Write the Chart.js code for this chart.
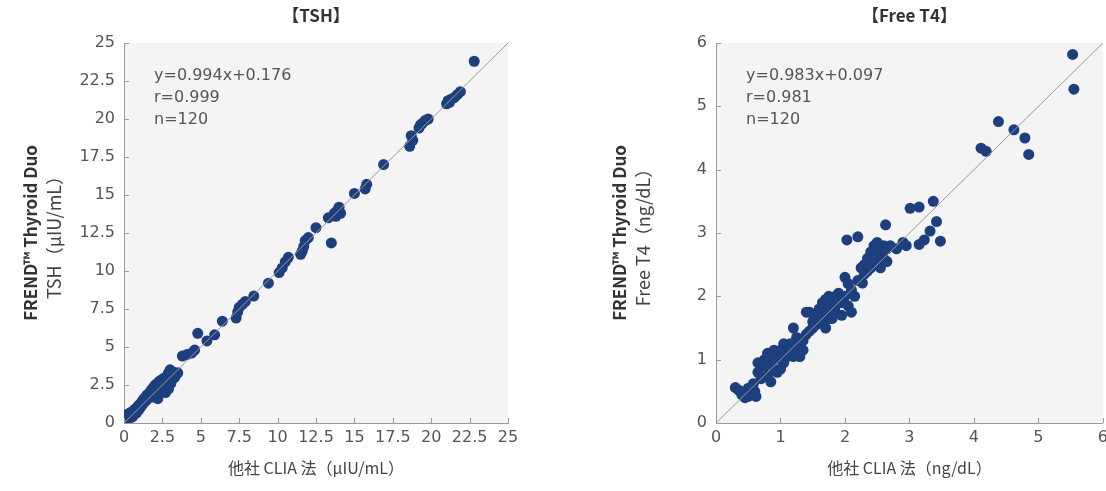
<!DOCTYPE html>
<html>
<head>
<meta charset="utf-8">
<script src="https://cdn.jsdelivr.net/npm/chart.js@4/dist/chart.umd.min.js"></script>
<style>
  body { margin: 0; background: #fff; overflow: hidden; width: 1106px; height: 491px; position: relative; }
  canvas { position: absolute; top: 0; }
  #tsh { left: 0; }
  #ft4 { left: 553px; }
</style>
</head>
<body>
<canvas id="tsh" width="553" height="491"></canvas>
<canvas id="ft4" width="560" height="491"></canvas>
<script>
// TSH (uIU/mL): other CLIA method (x) vs FREND Thyroid Duo (y)
var tshX = [22.8, 21.0, 21.1, 21.3, 21.5, 21.7, 21.9, 21.2, 19.2, 19.4, 19.6, 19.8, 19.3,
  18.6, 18.8, 18.7, 16.9, 15.0, 15.7, 15.8, 13.3, 13.7, 13.9, 14.0, 14.1, 13.8, 13.5,
  12.5, 11.6, 11.7, 11.8, 12.0, 11.5, 10.5, 10.7, 10.3, 10.1, 9.4, 8.45, 7.3, 7.4, 7.5,
  7.7, 7.9, 6.4, 5.9, 5.4, 4.8, 3.8, 4.1, 4.4, 4.6,
  0.1, 0.15, 0.2, 0.25, 0.3, 0.35, 0.4, 0.45, 0.5, 0.55, 0.6, 0.65, 0.7, 0.75, 0.8, 0.85,
  0.9, 0.95, 1.0, 1.05, 1.1, 1.15, 1.2, 1.25, 1.3, 1.35, 1.4, 1.45, 1.5, 1.55, 1.6, 1.65,
  1.7, 1.75, 1.8, 1.85, 1.9, 1.95, 2.0, 2.05, 2.1, 2.15, 2.2, 2.25, 2.3, 2.35, 2.4, 2.45,
  2.5, 2.55, 2.6, 2.65, 2.7, 2.75, 2.8, 2.85, 2.9, 2.95, 3.0, 3.05, 3.1, 3.15, 3.2, 3.3,
  3.4, 3.5, 2.9, 2.2];
var tshY = [23.8, 21.0, 21.2, 21.3, 21.4, 21.6, 21.8, 21.1, 19.4, 19.7, 19.9, 20.0, 19.6,
  18.2, 18.6, 18.9, 17.0, 15.1, 15.4, 15.7, 13.5, 13.8, 14.0, 14.2, 13.8, 13.6, 11.85,
  12.85, 11.3, 11.6, 12.0, 12.2, 11.1, 10.6, 10.9, 10.2, 9.9, 9.2, 8.35, 6.9, 7.3, 7.6,
  7.8, 8.0, 6.7, 5.8, 5.4, 5.9, 4.4, 4.5, 4.6, 4.8,
  0.4, 0.5, 0.3, 0.6, 0.45, 0.5, 0.35, 0.7, 0.55, 0.4, 0.75, 0.6, 0.9, 0.8, 0.65, 1.0,
  1.1, 0.85, 1.2, 1.0, 1.3, 1.15, 1.45, 1.3, 1.6, 1.4, 1.7, 1.5, 1.85, 1.6, 1.9, 1.75,
  2.05, 1.8, 2.2, 1.95, 2.3, 1.7, 2.45, 2.0, 2.55, 1.85, 2.6, 2.2, 2.75, 2.4, 2.1, 2.85,
  2.5, 2.3, 2.95, 2.6, 2.0, 2.75, 3.1, 2.45, 3.3, 2.8, 3.5, 2.6, 3.2, 2.9, 3.35, 3.0,
  3.2, 3.3, 2.25, 1.6];

// Free T4 (ng/dL)
var ft4X = [5.53, 5.55, 4.38, 4.62, 4.79, 4.85, 4.11, 4.19, 3.01, 3.15, 3.37,
  3.42, 3.32, 3.48, 3.15, 3.23, 2.63, 2.03, 2.2,
  2.3, 2.35, 2.4, 2.45, 2.5, 2.55, 2.6, 2.65, 2.7, 2.8, 2.9, 2.95, 2.5, 2.55, 2.45, 2.6, 2.35, 2.25,
  2.27, 2.0, 2.05, 2.1, 2.15, 2.0, 1.95, 2.05, 2.1, 1.95, 1.85, 1.8, 1.85,
  1.4, 1.45, 1.5, 1.55, 1.6, 1.65, 1.7, 1.75, 1.6, 1.7, 1.75, 1.8, 1.55, 1.65, 1.7,
  1.2, 1.25, 1.3, 1.35, 1.4, 1.1, 1.15, 1.05, 1.0, 1.05, 1.2, 1.3,
  0.9, 0.95, 0.85, 0.8, 0.75, 0.7, 0.65, 0.7, 0.8, 0.9, 0.95, 1.0, 0.85,
  0.3, 0.35, 0.4, 0.45, 0.5, 0.55, 0.6, 0.62, 0.5, 0.58,
  0.65, 0.75, 0.8, 0.9, 1.0, 1.1, 1.15, 1.25, 1.35, 1.45, 1.5, 1.6, 1.75, 1.85, 1.9,
  2.2, 2.3, 2.4, 2.55, 2.65];
var ft4Y = [5.82, 5.27, 4.76, 4.63, 4.5, 4.24, 4.34, 4.29, 3.39, 3.41, 3.5,
  3.18, 3.03, 2.87, 2.82, 2.89, 3.13, 2.89, 2.94,
  2.5, 2.6, 2.7, 2.8, 2.85, 2.75, 2.8, 2.75, 2.8, 2.75, 2.85, 2.8, 2.5, 2.45, 2.55, 2.6, 2.4, 2.45,
  2.21, 2.3, 2.2, 2.1, 2.0, 2.0, 1.9, 1.85, 1.75, 1.7, 2.0, 1.9, 1.75,
  1.75, 1.75, 1.6, 1.7, 1.8, 1.9, 1.95, 2.0, 1.6, 1.7, 1.8, 1.65, 1.55, 1.65, 1.5,
  1.5, 1.35, 1.2, 1.3, 1.4, 1.2, 1.1, 1.25, 1.0, 0.95, 1.05, 1.05,
  1.15, 1.1, 1.05, 0.95, 0.9, 0.95, 0.8, 0.7, 0.75, 0.85, 0.8, 0.85, 0.65,
  0.56, 0.52, 0.45, 0.4, 0.42, 0.45, 0.5, 0.42, 0.55, 0.62,
  0.95, 1.0, 1.1, 1.0, 1.15, 1.05, 1.25, 1.2, 1.15, 1.45, 1.5, 1.7, 1.65, 1.85, 2.05,
  2.25, 2.35, 2.45, 2.65, 2.55];

var tshTicks = [0, 2.5, 5, 7.5, 10, 12.5, 15, 17.5, 20, 22.5, 25];
var ft4Ticks = [0, 1, 2, 3, 4, 5, 6];

var pointColor = '#1d3f7e';
var lineColor = '#9a9a9a';
var textColor = '#555';
var tickFont = { family: 'DejaVu Sans', size: 16 };

function toPoints(xs, ys) {
  return xs.map(function (x, i) { return { x: x, y: ys[i] }; });
}

// light grey panel behind the data + inner tick marks + texts
var decorPlugin = {
  id: 'decor',
  beforeDraw: function (chart) {
    var a = chart.chartArea, ctx = chart.ctx;
    ctx.save();
    ctx.fillStyle = '#f4f4f4';
    ctx.fillRect(a.left, a.top, a.right - a.left, a.bottom - a.top);
    ctx.restore();
  },
  afterDraw: function (chart) {
    var o = chart.options.plugins.decor;
    var a = chart.chartArea, ctx = chart.ctx;
    var xs = chart.scales.x, ys = chart.scales.y;
    ctx.save();
    // inward ticks
    ctx.strokeStyle = lineColor;
    ctx.lineWidth = 1;
    ctx.beginPath();
    xs.ticks.forEach(function (t) {
      var px = Math.round(xs.getPixelForValue(t.value)) + 0.5;
      ctx.moveTo(px, a.bottom);
      ctx.lineTo(px, a.bottom - 5);
    });
    ys.ticks.forEach(function (t) {
      var py = Math.round(ys.getPixelForValue(t.value)) + 0.5;
      ctx.moveTo(a.left, py);
      ctx.lineTo(a.left + 5, py);
    });
    ctx.stroke();

    var cx = (a.left + a.right) / 2;
    ctx.fillStyle = '#333';
    ctx.textAlign = 'center';
    ctx.textBaseline = 'middle';
    ctx.font = 'bold 17px "Noto Sans CJK JP"';
    ctx.fillText(o.title, cx, 16);

    ctx.fillStyle = '#444';
    ctx.font = '16px "Noto Sans CJK JP"';
    ctx.fillText(o.xTitle, cx, 468);

    // y title, two lines with different weights
    var cy = (a.top + a.bottom) / 2;
    ctx.save();
    ctx.translate(o.yTitleX, cy);
    ctx.rotate(-Math.PI / 2);
    ctx.font = 'bold 17px "Noto Sans CJK JP"';
    ctx.fillStyle = '#333';
    ctx.fillText(o.yTitle[0], 0, 0);
    ctx.restore();
    ctx.save();
    ctx.translate(o.yTitleX + 23, cy);
    ctx.rotate(-Math.PI / 2);
    ctx.font = '18px "Noto Sans CJK JP"';
    ctx.fillStyle = '#444';
    ctx.fillText(o.yTitle[1], 0, 0);
    ctx.restore();

    // regression stats
    ctx.font = '16px "DejaVu Sans"';
    ctx.fillStyle = textColor;
    ctx.textAlign = 'left';
    o.stats.forEach(function (s, i) {
      ctx.fillText(s, a.left + 30, a.top + 33 + i * 22);
    });
    ctx.restore();
  }
};

function makeChart(id, xs, ys, ticks, opts) {
  var max = ticks[ticks.length - 1];
  return new Chart(document.getElementById(id), {
    type: 'scatter',
    data: {
      datasets: [{
        type: 'line',
        data: [{ x: 0, y: 0 }, { x: max, y: max }],
        borderColor: lineColor,
        borderWidth: 1,
        pointRadius: 0
      }, {
        data: toPoints(xs, ys),
        backgroundColor: pointColor,
        borderColor: pointColor,
        pointRadius: 5.5,
        borderWidth: 0
      }]
    },
    options: {
      responsive: false,
      animation: false,
      layout: { autoPadding: false, padding: { top: 43, left: 0, right: opts.padRight, bottom: 0 } },
      plugins: {
        legend: { display: false },
        tooltip: { enabled: false },
        decor: opts
      },
      scales: {
        x: {
          type: 'linear', min: 0, max: max,
          afterFit: function (s) { s.height = 68; },
          afterBuildTicks: function (s) { s.ticks = ticks.map(function (v) { return { value: v }; }); },
          grid: { drawOnChartArea: false, drawTicks: false },
          border: { color: lineColor, width: 1 },
          ticks: { color: textColor, font: tickFont, padding: 5, maxRotation: 0, autoSkip: false }
        },
        y: {
          type: 'linear', min: 0, max: max,
          afterFit: function (s) { s.width = opts.yWidth; },
          afterBuildTicks: function (s) { s.ticks = ticks.map(function (v) { return { value: v }; }); },
          grid: { drawOnChartArea: false, drawTicks: false },
          border: { color: lineColor, width: 1 },
          ticks: { color: textColor, font: tickFont, padding: 9, autoSkip: false }
        }
      }
    },
    plugins: [decorPlugin]
  });
}

makeChart('tsh', tshX, tshY, tshTicks, {
  title: '【TSH】',
  xTitle: '他社 CLIA 法（μIU/mL）',
  yTitle: ['FREND™ Thyroid Duo', 'TSH（μIU/mL）'],
  yTitleX: 31,
  yWidth: 124,
  padRight: 45,
  stats: ['y=0.994x+0.176', 'r=0.999', 'n=120']
});

makeChart('ft4', ft4X, ft4Y, ft4Ticks, {
  title: '【Free T4】',
  xTitle: '他社 CLIA 法（ng/dL）',
  yTitle: ['FREND™ Thyroid Duo', 'Free T4（ng/dL）'],
  yTitleX: 67,
  yWidth: 163,
  padRight: 9,
  stats: ['y=0.983x+0.097', 'r=0.981', 'n=120']
});
</script>
</body>
</html>
